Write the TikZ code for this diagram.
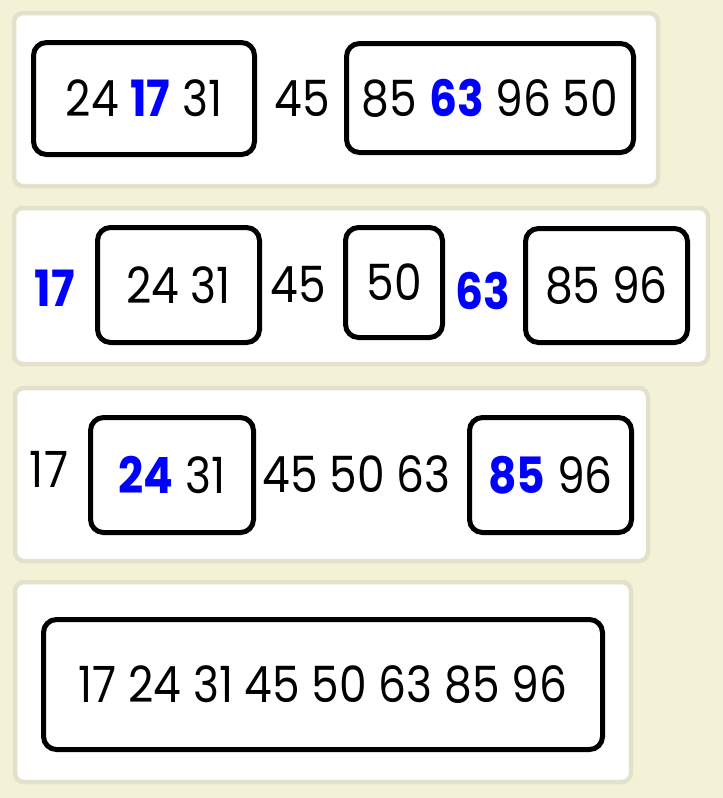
\documentclass[tikz,border=0pt]{standalone}
\usepackage{fontspec}
\setmainfont{Poppins}[FakeStretch=0.88]
\usetikzlibrary{positioning}
\definecolor{cream}{HTML}{F4F2D6}
\definecolor{rim}{HTML}{E2E1CC}
\definecolor{keyblue}{HTML}{0000FF}
\newcommand{\piv}[1]{\textcolor{keyblue}{\textbf{#1}}}
\begin{document}
\begin{tikzpicture}[x=1pt,y=-1pt,
  every node/.style={font=\fontsize{50}{55}\selectfont, inner sep=0pt},
  panel/.style={fill=white, draw=rim, line width=4.5pt, rounded corners=9pt},
  part/.style={draw=black, line width=5pt, rounded corners=13pt, fill=white}]
  %%%%% background %%%%%
  \fill[cream] (0,0) rectangle (723,798);
  \useasboundingbox (0,0) rectangle (723,798);

  \draw[panel] (14,13) rectangle (658,186);
  \draw[panel] (14,208) rectangle (708,364);
  \draw[panel] (15,388) rectangle (648,561);
  \draw[panel] (15,582) rectangle (631,782);

  %%%%% step 1 %%%%%
  \node[part, minimum width=221pt, minimum height=112pt] (a1) at (144,98.5) {24 \piv{17} 31};
  \node (a2) at (302.5,98) {45};
  \node[part, minimum width=287pt, minimum height=109pt] (a3) at (490,98) {85 \piv{63} 96 50};

  %%%%% step 2 %%%%%
  \node (b1) at (55,288.5) {\piv{17}};
  \node[part, minimum width=162pt, minimum height=115pt] (b2) at (178.5,285) {24 31};
  \node (b3) at (298,284.5) {45};
  \node[part, minimum width=97pt, minimum height=110pt] (b4) at (394,282.5) {50};
  \node (b5) at (482.5,291) {\piv{63}};
  \node[part, minimum width=162pt, minimum height=114pt] (b6) at (606.5,285.5) {85 96};

  %%%%% step 3 %%%%%
  \node (c1) at (49,469.5) {17};
  \node[part, minimum width=163pt, minimum height=115pt] (c2) at (172,475) {\piv{24} 31};
  \node (c3) at (356.5,474) {45 50 63};
  \node[part, minimum width=162pt, minimum height=115pt] (c4) at (550.5,475) {\piv{85} 96};

  %%%%% step 4 %%%%%
  \node[part, minimum width=559pt, minimum height=130pt] (d1) at (323,684.5) {17 24 31 45 50 63 85 96};
\end{tikzpicture}
\end{document}
